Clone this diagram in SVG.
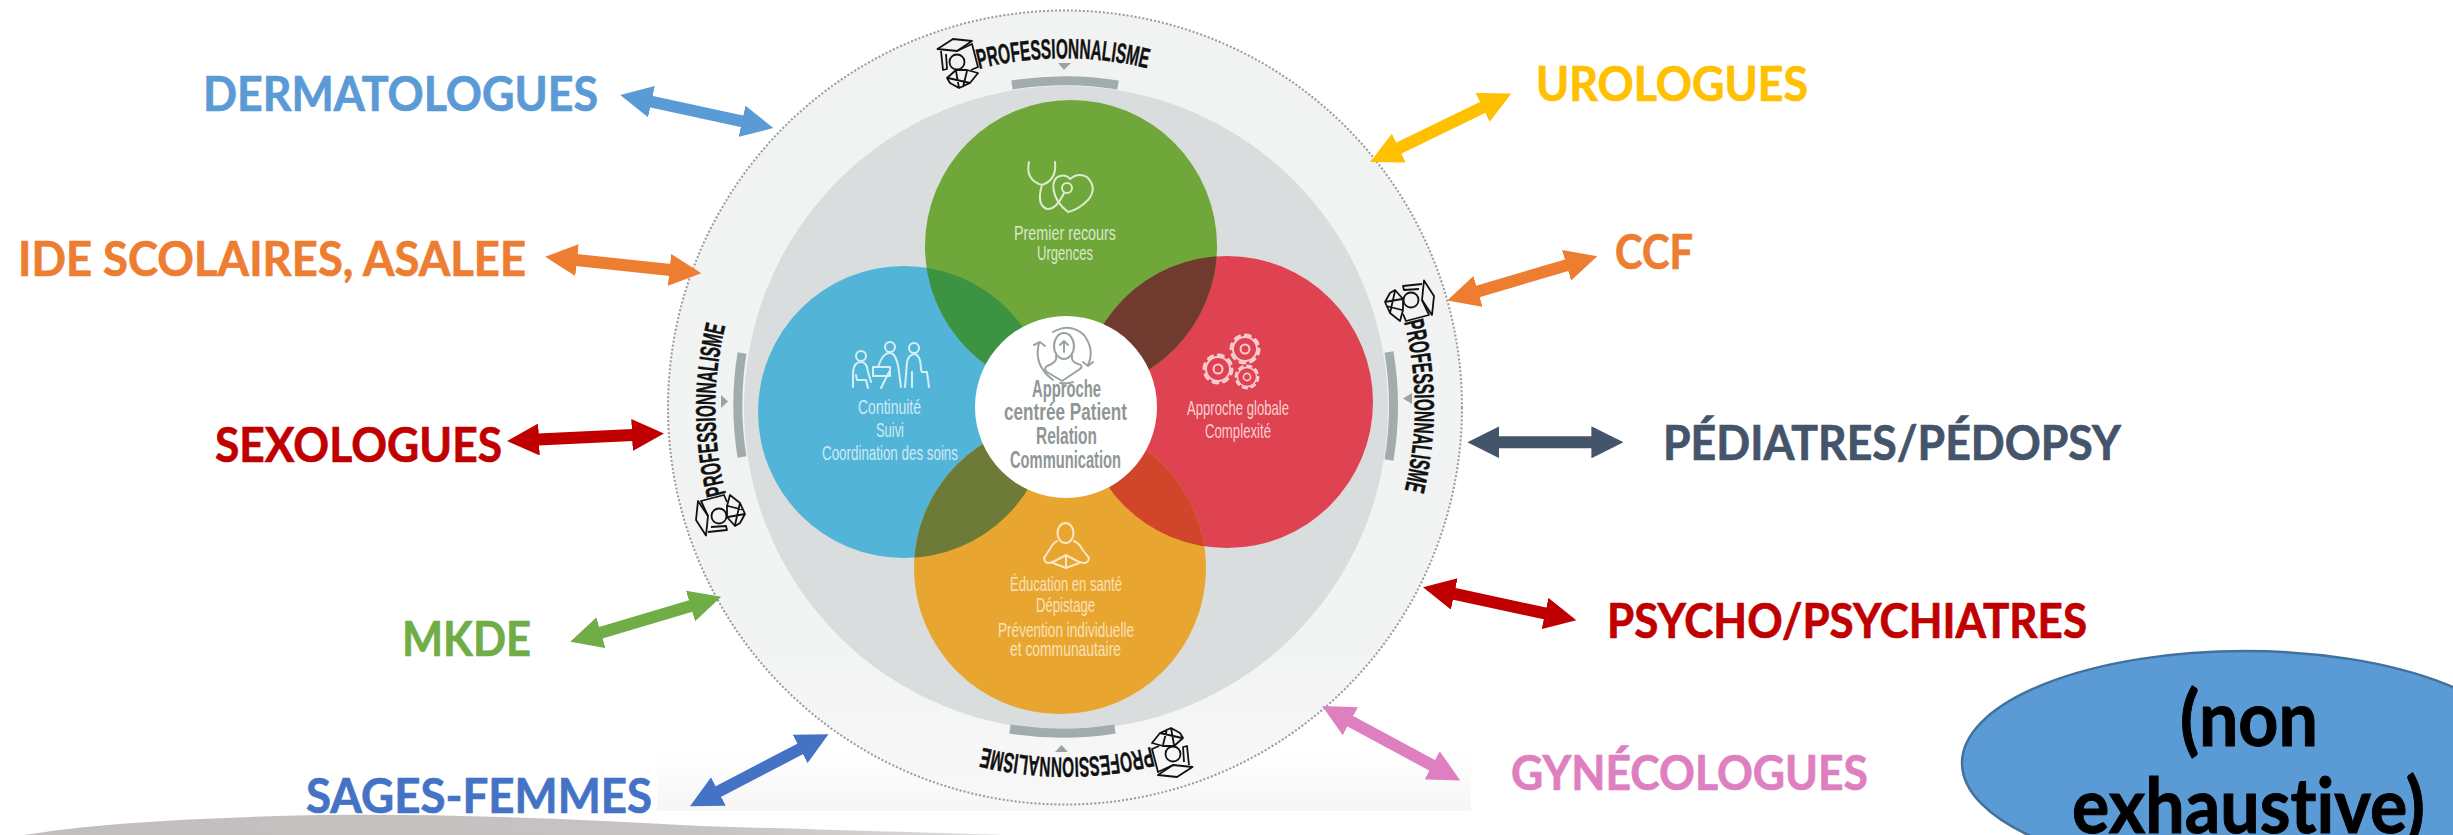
<svg xmlns="http://www.w3.org/2000/svg" xmlns:xlink="http://www.w3.org/1999/xlink" width="2453" height="835" viewBox="0 0 2453 835">
<style>
text{font-variant-ligatures:none}
.lbl{font-family:Lato,"Liberation Sans",sans-serif;font-weight:700;font-size:48px;stroke-width:.7}
.big{font-family:Lato,"Liberation Sans",sans-serif;font-weight:700;font-size:76px;fill:#000;stroke:#000;stroke-width:1}
.prof{font-family:"Liberation Sans Narrow","Liberation Sans",sans-serif;font-weight:700;font-size:28px;fill:#111;stroke:#111;stroke-width:.4}
.in{font-family:"Liberation Sans Narrow","Liberation Sans",sans-serif;font-size:21px}
.ctr{font-family:"Liberation Sans Narrow","Liberation Sans",sans-serif;font-size:24px;font-weight:700;fill:#8f9696}
.ic{fill:none;stroke-width:2;stroke-linecap:round;stroke-linejoin:round}
.bar{fill:none;stroke:#a3acac;stroke-width:9}
.tri{fill:#9ba3a3}
.a{fill:none;stroke-width:12}
.pi{fill:none;stroke:#111;stroke-width:1.8;stroke-linejoin:round}
</style>
<defs>
<linearGradient id="fade" x1="0" y1="0" x2="0" y2="1"><stop offset="0" stop-color="#fff"/><stop offset="1" stop-color="#f6f6f6"/></linearGradient>
<linearGradient id="disc" x1="0" y1="0" x2="0" y2="1"><stop offset="0" stop-color="#f1f2f2"/><stop offset="0.8" stop-color="#f2f3f3"/><stop offset="1" stop-color="#f8f8f8"/></linearGradient>
<linearGradient id="ground" x1="0" y1="0" x2="1" y2="0"><stop offset="0" stop-color="#c2bebd"/><stop offset="0.7" stop-color="#c6c3c2"/><stop offset="1" stop-color="#dddbdb"/></linearGradient>
<path id="arcTop" d="M979 69 A349 349 0 0 1 1150 69"/>
<clipPath id="cG"><circle cx="1071" cy="246" r="146"/></clipPath>
<clipPath id="cO"><circle cx="1060" cy="568" r="146"/></clipPath>
<g id="iconProf" class="pi">
<path d="M937.5 49 L953 39 L972 41 L957 51 Z"/>
<path d="M941 51 L943 70 L947 69 L946 54 M957 51 L972 44 L978 67 L971 70"/>
<circle cx="957" cy="62" r="7.5"/>
<path d="M947 78 L956 70 L967 70 L978 73 L970 83 L959 88 L950 83 Z M956 71 L959 88 M967 71 L963 87 M948 78 L970 83"/>
</g>
<g id="gear"><circle r="4.5"/><circle r="12"/><circle r="14" stroke-width="3" stroke-dasharray="5 6"/></g>
<marker id="mBlue" markerUnits="userSpaceOnUse" markerWidth="32" markerHeight="32" viewBox="0 0 32 32" refX="1" refY="16" orient="auto-start-reverse"><path d="M0 0L32 16L0 32Z" fill="#5b9bd5"/></marker>
<marker id="mOrange" markerUnits="userSpaceOnUse" markerWidth="32" markerHeight="32" viewBox="0 0 32 32" refX="1" refY="16" orient="auto-start-reverse"><path d="M0 0L32 16L0 32Z" fill="#ed7d31"/></marker>
<marker id="mRed" markerUnits="userSpaceOnUse" markerWidth="32" markerHeight="32" viewBox="0 0 32 32" refX="1" refY="16" orient="auto-start-reverse"><path d="M0 0L32 16L0 32Z" fill="#c00000"/></marker>
<marker id="mGreen" markerUnits="userSpaceOnUse" markerWidth="32" markerHeight="32" viewBox="0 0 32 32" refX="1" refY="16" orient="auto-start-reverse"><path d="M0 0L32 16L0 32Z" fill="#70ad47"/></marker>
<marker id="mIndigo" markerUnits="userSpaceOnUse" markerWidth="32" markerHeight="32" viewBox="0 0 32 32" refX="1" refY="16" orient="auto-start-reverse"><path d="M0 0L32 16L0 32Z" fill="#4472c4"/></marker>
<marker id="mGold" markerUnits="userSpaceOnUse" markerWidth="32" markerHeight="32" viewBox="0 0 32 32" refX="1" refY="16" orient="auto-start-reverse"><path d="M0 0L32 16L0 32Z" fill="#ffc000"/></marker>
<marker id="mSlate" markerUnits="userSpaceOnUse" markerWidth="32" markerHeight="32" viewBox="0 0 32 32" refX="1" refY="16" orient="auto-start-reverse"><path d="M0 0L32 16L0 32Z" fill="#44546a"/></marker>
<marker id="mPink" markerUnits="userSpaceOnUse" markerWidth="32" markerHeight="32" viewBox="0 0 32 32" refX="1" refY="16" orient="auto-start-reverse"><path d="M0 0L32 16L0 32Z" fill="#de80c0"/></marker>
</defs>

<rect width="2453" height="835" fill="#fff"/>
<path d="M24 835 Q120 819 320 815 Q480 813 700 826 Q900 832 1005 835 Z" fill="url(#ground)"/>
<rect x="657" y="750" width="814" height="61" fill="url(#fade)"/>

<g id="wheel">
<circle cx="1065" cy="407.5" r="397" fill="url(#disc)" stroke="#9a9a9a" stroke-width="2" stroke-dasharray="2 2"/>
<circle cx="1066" cy="408" r="322" fill="#dadddd"/>
<path class="bar" d="M1012 85 A327 327 0 0 1 1118 85"/>
<path class="bar" d="M1010 729 A327 327 0 0 0 1115 729"/>
<path class="bar" d="M742 353 A327 327 0 0 0 742 457"/>
<path class="bar" d="M1389 352 A327 327 0 0 1 1389 460"/>
<path class="tri" d="M1058 63H1071L1064 70Z"/>
<path class="tri" d="M1055 752H1068L1061.5 745Z"/>
<path class="tri" d="M721 395V408L728 401.5Z"/>
<path class="tri" d="M1412 393V404L1403 398.5Z"/>
</g>

<g id="prof-top"><use href="#iconProf"/><text class="prof"><textPath href="#arcTop" textLength="170" lengthAdjust="spacingAndGlyphs">PROFESSIONNALISME</textPath></text></g>
<g id="prof-right" transform="rotate(90 1065 408)"><use href="#iconProf"/><text class="prof"><textPath href="#arcTop" textLength="170" lengthAdjust="spacingAndGlyphs">PROFESSIONNALISME</textPath></text></g>
<g id="prof-bottom" transform="rotate(180 1065 408)"><use href="#iconProf"/><text class="prof"><textPath href="#arcTop" textLength="170" lengthAdjust="spacingAndGlyphs">PROFESSIONNALISME</textPath></text></g>
<g id="prof-left" transform="rotate(270 1065 408)"><use href="#iconProf"/><text class="prof"><textPath href="#arcTop" textLength="170" lengthAdjust="spacingAndGlyphs">PROFESSIONNALISME</textPath></text></g>

<g id="circle-blue"><circle cx="904" cy="412" r="146" fill="#52b5d8"/></g>
<g id="circle-red"><circle cx="1227" cy="402" r="146" fill="#df4250"/></g>
<g id="circle-orange"><circle cx="1060" cy="568" r="146" fill="#e8a530"/>
<circle cx="904" cy="412" r="146" fill="#6e7b38" clip-path="url(#cO)"/>
<circle cx="1227" cy="402" r="146" fill="#d1462a" clip-path="url(#cO)"/></g>
<g id="circle-green"><circle cx="1071" cy="246" r="146" fill="#70a73a"/>
<circle cx="904" cy="412" r="146" fill="#3c9442" clip-path="url(#cG)"/>
<circle cx="1227" cy="402" r="146" fill="#703a2e" clip-path="url(#cG)"/></g>

<g id="green-content">
<g class="ic" stroke="#dcebcd">
<path d="M1029 162 Q1025 180 1042 185 Q1057 180 1055 162 M1042 185 Q1036 205 1047 209 Q1056 210 1064 193"/>
<circle cx="1067" cy="188" r="5"/>
<path d="M1068 212 C1050 198 1050 178 1060 176 Q1066 174 1070 179 Q1078 172 1087 177 Q1098 188 1088 200 Q1078 210 1068 212Z"/>
</g>
<text class="in" x="1014" y="240" textLength="102" lengthAdjust="spacingAndGlyphs" fill="#d9e8c9">Premier recours</text>
<text class="in" x="1037" y="260" textLength="56" lengthAdjust="spacingAndGlyphs" fill="#d9e8c9">Urgences</text>
</g>
<g id="blue-content">
<g class="ic" stroke="#d5eff7">
<circle cx="861" cy="356" r="5"/><circle cx="890" cy="347" r="5"/><circle cx="914" cy="348" r="5"/>
<path d="M853 387V372Q854 362 861 362Q867 362 868 372L871 382M856 375L857 380H866L868 388"/>
<path d="M880 362Q884 352 891 353Q897 355 899 372L901 387M889 372L881 388M880 362L878 367"/>
<rect x="873" y="367" width="17" height="9"/>
<path d="M905 387L907 362Q909 354 915 354Q921 356 921 370L922 372H927L929 387M912 372V387"/>
</g>
<text class="in" x="858" y="414" textLength="63" lengthAdjust="spacingAndGlyphs" fill="#cfeaf4">Continuité</text>
<text class="in" x="876" y="437" textLength="28" lengthAdjust="spacingAndGlyphs" fill="#cfeaf4">Suivi</text>
<text class="in" x="822" y="460" textLength="136" lengthAdjust="spacingAndGlyphs" fill="#cfeaf4">Coordination des soins</text>
</g>
<g id="red-content">
<g class="ic" stroke="#f8ccd0">
<use href="#gear" transform="translate(1245 349)"/>
<use href="#gear" transform="translate(1218 369)"/>
<use href="#gear" transform="translate(1247 377) scale(.8)"/>
</g>
<text class="in" x="1187" y="415" textLength="102" lengthAdjust="spacingAndGlyphs" fill="#f8d0d3">Approche globale</text>
<text class="in" x="1205" y="438" textLength="66" lengthAdjust="spacingAndGlyphs" fill="#f8d0d3">Complexité</text>
</g>
<g id="orange-content">
<g class="ic" stroke="#fbe8c4">
<ellipse cx="1065.5" cy="533" rx="8" ry="10"/>
<path d="M1057 541Q1052 544 1050 549L1044 558Q1045 566 1055 561L1066 555L1077 561Q1088 566 1089 558L1082 549Q1080 544 1074 541M1066 555V566M1053 563L1066 568L1079 563"/>
</g>
<text class="in" x="1010" y="591" textLength="112" lengthAdjust="spacingAndGlyphs" fill="#f8e2b8">Éducation en santé</text>
<text class="in" x="1036" y="612" textLength="59" lengthAdjust="spacingAndGlyphs" fill="#f8e2b8">Dépistage</text>
<text class="in" x="998" y="637" textLength="136" lengthAdjust="spacingAndGlyphs" fill="#f8e2b8">Prévention individuelle</text>
<text class="in" x="1010" y="656" textLength="111" lengthAdjust="spacingAndGlyphs" fill="#f8e2b8">et communautaire</text>
</g>
<g id="center">
<circle cx="1066" cy="407" r="91" fill="#fff"/>
<g class="ic" stroke="#9aa3a3">
<ellipse cx="1064" cy="346" rx="10" ry="13"/>
<path d="M1064 352V342M1060 345L1064 341L1068 345"/>
<path d="M1056 356Q1058 362 1047 366Q1043 369 1047 372L1062 381L1080 369Q1084 365 1078 364Q1071 362 1072 356"/>
<path d="M1053 332Q1070 322 1084 335Q1095 350 1088 365M1039 343Q1033 365 1053 380M1060 383Q1068 384 1073 382"/>
<path d="M1034 345L1040 342L1045 346M1083 362L1088 366L1093 362"/>
</g>
<text class="ctr" x="1032" y="397" textLength="69" lengthAdjust="spacingAndGlyphs">Approche</text>
<text class="ctr" x="1004" y="420" textLength="123" lengthAdjust="spacingAndGlyphs">centrée Patient</text>
<text class="ctr" x="1036" y="444" textLength="61" lengthAdjust="spacingAndGlyphs">Relation</text>
<text class="ctr" x="1010" y="468" textLength="111" lengthAdjust="spacingAndGlyphs">Communication</text>
</g>

<g id="connectors">
<line class="a" stroke="#5b9bd5" marker-start="url(#mBlue)" marker-end="url(#mBlue)" x1="650.5" y1="101.5" x2="743" y2="121.5"/>
<line class="a" stroke="#ed7d31" marker-start="url(#mOrange)" marker-end="url(#mOrange)" x1="576" y1="260" x2="670.5" y2="270"/>
<line class="a" stroke="#c00000" marker-start="url(#mRed)" marker-end="url(#mRed)" x1="538" y1="439.5" x2="633" y2="435"/>
<line class="a" stroke="#70ad47" marker-start="url(#mGreen)" marker-end="url(#mGreen)" x1="600" y1="633" x2="691.5" y2="605.7"/>
<line class="a" stroke="#4472c4" marker-start="url(#mIndigo)" marker-end="url(#mIndigo)" x1="717.5" y1="792" x2="801" y2="748.5"/>
<line class="a" stroke="#ffc000" marker-start="url(#mGold)" marker-end="url(#mGold)" x1="1483.5" y1="107" x2="1398" y2="148.5"/>
<line class="a" stroke="#ed7d31" marker-start="url(#mOrange)" marker-end="url(#mOrange)" x1="1567.5" y1="265" x2="1477" y2="291.7"/>
<line class="a" stroke="#44546a" marker-start="url(#mSlate)" marker-end="url(#mSlate)" x1="1498.4" y1="442.3" x2="1592.4" y2="442.3"/>
<line class="a" stroke="#c00000" marker-start="url(#mRed)" marker-end="url(#mRed)" x1="1453.3" y1="593.7" x2="1546" y2="613.7"/>
<line class="a" stroke="#de80c0" marker-start="url(#mPink)" marker-end="url(#mPink)" x1="1349.5" y1="720.8" x2="1433" y2="765.8"/>
</g>

<g id="node-dermatologues"><text class="lbl" x="203" y="111" textLength="395" lengthAdjust="spacingAndGlyphs" fill="#5b9bd5" stroke="#5b9bd5">DERMATOLOGUES</text></g>
<g id="node-ide"><text class="lbl" x="18" y="276" textLength="508" lengthAdjust="spacingAndGlyphs" fill="#ed7d31" stroke="#ed7d31">IDE SCOLAIRES, ASALEE</text></g>
<g id="node-sexologues"><text class="lbl" x="215" y="461.5" textLength="287" lengthAdjust="spacingAndGlyphs" fill="#c00000" stroke="#c00000">SEXOLOGUES</text></g>
<g id="node-mkde"><text class="lbl" x="402" y="655.5" textLength="129" lengthAdjust="spacingAndGlyphs" fill="#70ad47" stroke="#70ad47">MKDE</text></g>
<g id="node-sages-femmes"><text class="lbl" x="306" y="813" textLength="346" lengthAdjust="spacingAndGlyphs" fill="#4472c4" stroke="#4472c4">SAGES-FEMMES</text></g>
<g id="node-urologues"><text class="lbl" x="1536" y="101" textLength="272" lengthAdjust="spacingAndGlyphs" fill="#ffc000" stroke="#ffc000">UROLOGUES</text></g>
<g id="node-ccf"><text class="lbl" x="1615" y="269" textLength="78" lengthAdjust="spacingAndGlyphs" fill="#ed7d31" stroke="#ed7d31">CCF</text></g>
<g id="node-pediatres"><text class="lbl" x="1663" y="460" textLength="458" lengthAdjust="spacingAndGlyphs" fill="#44546a" stroke="#44546a">PÉDIATRES/PÉDOPSY</text></g>
<g id="node-psycho"><text class="lbl" x="1607" y="638" textLength="480" lengthAdjust="spacingAndGlyphs" fill="#c00000" stroke="#c00000">PSYCHO/PSYCHIATRES</text></g>
<g id="node-gynecologues"><text class="lbl" x="1511" y="790" textLength="357" lengthAdjust="spacingAndGlyphs" fill="#de80c0" stroke="#de80c0">GYNÉCOLOGUES</text></g>
<g id="node-non-exhaustive">
<ellipse cx="2245" cy="763" rx="283" ry="112" fill="#5b9bd5" stroke="#41719c" stroke-width="2.5"/>
<text class="big" x="2180" y="746" textLength="138" lengthAdjust="spacingAndGlyphs">(non</text>
<text class="big" x="2072" y="833" textLength="353" lengthAdjust="spacingAndGlyphs">exhaustive)</text>
</g>
</svg>
